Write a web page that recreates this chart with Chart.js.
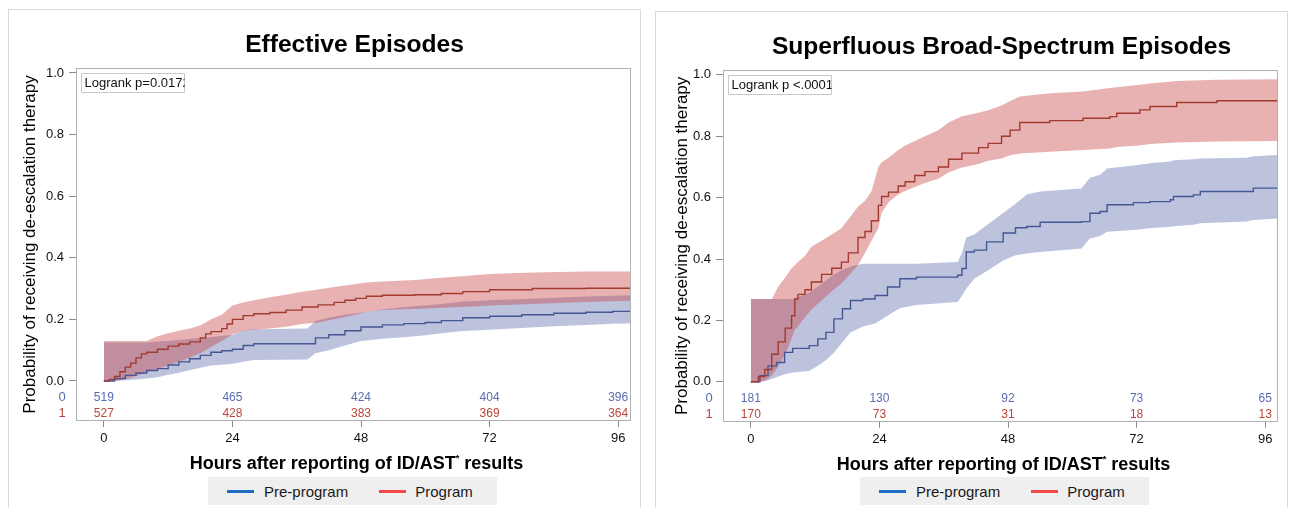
<!DOCTYPE html>
<html>
<head>
<meta charset="utf-8">
<script src="https://cdn.jsdelivr.net/npm/chart.js@4.4.1/dist/chart.umd.min.js"></script>
<style>
  body { margin: 0; width: 1290px; height: 508px; overflow: hidden; position: relative; background: #fff; font-family: "Liberation Sans", Arial, sans-serif; }
  .panel { position: absolute; border: 1px solid #d9d9d9; width: 631px; height: 520px; background: #fff; }
  #panelA { left: 8px; top: 9px; }
  #panelB { left: 655px; top: 11px; }
  .panel canvas { position: absolute; left: 0; top: 0; }
  .legend { position: absolute; top: 477px; width: 289px; height: 28px; background: #efefef; display: flex; align-items: center; font-size: 15px; color: #1a1a1a; }
  .sw { display: inline-block; width: 27px; height: 3px; }
</style>
</head>
<body>
<div class="panel" id="panelA"><canvas id="chartA" width="631" height="467"></canvas></div>
<div class="panel" id="panelB"><canvas id="chartB" width="631" height="465"></canvas></div>

<div class="legend" style="left:208px">
  <span class="sw" style="margin-left:19px;background:#1f6bc5"></span>
  <span style="margin-left:10px">Pre-program</span>
  <span class="sw" style="margin-left:31px;background:#f44848"></span>
  <span style="margin-left:9px">Program</span>
</div>
<div class="legend" style="left:860px">
  <span class="sw" style="margin-left:19px;background:#1f6bc5"></span>
  <span style="margin-left:10px">Pre-program</span>
  <span class="sw" style="margin-left:31px;background:#f44848"></span>
  <span style="margin-left:9px">Program</span>
</div>

<script>
// axis ticks
const xTicks = [0, 24, 48, 72, 96];
const yTicks = [0, 0.2, 0.4, 0.6, 0.8, 1.0];

// Effective episodes - pre-program (0)
const effPreT   = [0, 2, 4, 6, 8, 10, 12, 14, 16, 18, 20, 22, 24, 26, 28, 38, 39.5, 42, 45, 48, 52, 56, 60, 63, 67, 72, 78, 84, 90, 95, 98.4];
const effPreEst = [0, .008, .018, .026, .034, .04, .052, .062, .072, .083, .093, .098, .103, .115, .121, .121, .14, .15, .163, .175, .182, .186, .19, .196, .205, .21, .215, .22, .223, .226, .226];
const effPreLo  = [0, 0, .002, .005, .008, .012, .02, .027, .035, .043, .05, .053, .056, .062, .068, .07, .09, .1, .115, .13, .137, .142, .148, .155, .162, .166, .172, .178, .182, .186, .187];
const effPreHi  = [.125, .125, .125, .125, .125, .128, .13, .133, .136, .14, .143, .146, .15, .163, .168, .17, .195, .205, .215, .222, .232, .24, .245, .25, .258, .262, .266, .27, .274, .277, .278];

// Effective episodes - program (1)
const effProgT   = [0, 1, 2, 3, 4, 5, 6, 7, 8, 10, 12, 14, 16, 18, 19, 20, 22, 23, 24, 26, 28, 31, 34, 37, 40, 43, 45, 47, 49, 52, 58, 63, 67, 72, 80, 90, 98.4];
const effProgEst = [0, .005, .015, .03, .045, .058, .075, .088, .093, .103, .113, .12, .127, .14, .153, .16, .17, .185, .2, .212, .218, .222, .23, .24, .247, .255, .262, .268, .275, .278, .28, .284, .29, .296, .3, .301, .301];
const effProgLo  = [0, 0, 0, .002, .006, .01, .016, .022, .028, .04, .05, .062, .075, .09, .1, .11, .13, .14, .152, .162, .166, .17, .176, .185, .19, .2, .208, .215, .225, .23, .234, .238, .24, .245, .25, .256, .26];
const effProgHi  = [.13, .13, .13, .13, .13, .13, .13, .13, .13, .145, .155, .163, .17, .18, .19, .2, .215, .23, .245, .255, .262, .272, .28, .29, .297, .305, .31, .315, .32, .323, .328, .335, .34, .347, .352, .355, .355];

// Superfluous broad-spectrum episodes - pre-program (0)
const supPreT   = [0, 1.7, 3.2, 4.8, 6.3, 7.8, 10.9, 12.5, 14, 15.5, 17.1, 18.6, 20.9, 23.2, 25.5, 27.8, 30.9, 38.6, 39.4, 40.2, 41.7, 44, 47.1, 49.4, 51.5, 54, 61.7, 63.3, 65.2, 66.5, 71.4, 74.5, 78.3, 78.9, 82.6, 83.9, 92.6, 93.8, 98.4];
const supPreEst = [0, .02, .052, .063, .096, .109, .118, .14, .161, .205, .238, .265, .27, .281, .309, .336, .341, .347, .369, .423, .429, .456, .485, .502, .506, .52, .522, .549, .555, .577, .584, .587, .593, .604, .609, .62, .62, .631, .636];
const supPreLo  = [0, 0, .005, .015, .025, .03, .035, .052, .07, .095, .129, .161, .18, .19, .215, .24, .25, .26, .28, .303, .336, .36, .395, .412, .418, .423, .434, .467, .475, .489, .495, .5, .505, .507, .512, .517, .522, .527, .532];
const supPreHi  = [.27, .27, .27, .27, .27, .27, .29, .31, .33, .35, .365, .375, .385, .385, .385, .385, .385, .39, .42, .47, .48, .51, .55, .58, .61, .62, .63, .665, .675, .695, .705, .712, .718, .722, .725, .728, .73, .735, .739];

// Superfluous broad-spectrum episodes - program (1)
const supProgT   = [0, 1.4, 2.6, 3.9, 5.1, 6.4, 7.6, 8.2, 8.8, 10.1, 11.3, 13.2, 15.1, 16.9, 18.2, 20, 21.3, 22.5, 23.8, 24.4, 25.7, 27.5, 28.8, 30.6, 32.5, 35, 36.9, 39.4, 42.5, 44.3, 46.8, 48.4, 50.2, 55.8, 62, 67, 68.3, 72.6, 74.5, 79.5, 87, 98.4];
const supProgEst = [0, .017, .04, .09, .13, .175, .215, .27, .285, .3, .325, .35, .37, .39, .42, .47, .49, .525, .575, .604, .618, .638, .652, .672, .685, .7, .725, .745, .763, .777, .8, .82, .845, .851, .859, .864, .875, .886, .897, .91, .916, .918];
const supProgLo  = [0, 0, .003, .02, .05, .09, .14, .17, .18, .21, .235, .265, .295, .32, .345, .38, .42, .46, .5, .55, .585, .61, .622, .635, .648, .662, .682, .698, .71, .72, .728, .738, .744, .75, .755, .76, .765, .77, .775, .78, .783, .785];
const supProgHi  = [.27, .27, .27, .27, .31, .34, .37, .38, .39, .41, .44, .46, .48, .5, .53, .57, .59, .62, .7, .715, .73, .755, .77, .785, .8, .82, .845, .865, .877, .885, .9, .915, .93, .94, .946, .957, .96, .968, .972, .98, .984, .986];

// numbers at risk at 0, 24, 48, 72, 96 h
const effRiskPre  = [519, 465, 424, 404, 396];
const effRiskProg = [527, 428, 383, 369, 364];
const supRiskPre  = [181, 130, 92, 73, 65];
const supRiskProg = [170, 73, 31, 18, 13];

const BLUE = '#445694', RED = '#a23a2e';
const BLUE_BAND = 'rgba(66,84,158,0.35)', RED_BAND = 'rgba(198,62,62,0.40)';
const FONT = '"Liberation Sans", Arial, sans-serif';

const pts = (t, v) => t.map((x, i) => ({ x: x, y: v[i] }));

function curve(t, v, color) {
  return { data: pts(t, v), borderColor: color, borderWidth: 1.4, stepped: true, pointRadius: 0, fill: false };
}
function bandEdge(t, v, color, fill) {
  return { data: pts(t, v), borderColor: 'rgba(0,0,0,0)', borderWidth: 0, stepped: false, tension: 0, pointRadius: 0,
           backgroundColor: color, fill: fill };
}

// titles, frame, logrank box and at-risk table
const kmExtras = {
  id: 'kmExtras',
  afterDraw(chart, args, opts) {
    const { ctx, chartArea: a, scales: { x, y } } = chart;
    const cx = (a.left + a.right) / 2;
    ctx.save();

    ctx.strokeStyle = '#b2b2b2';
    ctx.lineWidth = 1;
    ctx.strokeRect(Math.round(a.left) + 0.5, Math.round(a.top) + 0.5, Math.round(a.right - a.left) - 1, Math.round(a.bottom - a.top) - 1);

    ctx.fillStyle = '#000';
    ctx.textAlign = 'center';
    ctx.textBaseline = 'alphabetic';
    ctx.font = 'bold 24.6px ' + FONT;
    ctx.fillText(opts.title, cx + 1, a.top - 16);

    // x axis title with a small raised asterisk
    const p1 = 'Hours after reporting of ID/AST', p2 = ' results';
    ctx.font = 'bold 18px ' + FONT;
    const w1 = ctx.measureText(p1).width, w2 = ctx.measureText(p2).width;
    ctx.font = 'bold 9px ' + FONT;
    const ws = ctx.measureText('*').width;
    let tx = cx + 3 - (w1 + ws + w2) / 2;
    const ty = a.bottom + 48;
    ctx.textAlign = 'left';
    ctx.font = 'bold 18px ' + FONT;
    ctx.fillText(p1, tx, ty);
    ctx.font = 'bold 9px ' + FONT;
    ctx.fillText('*', tx + w1, ty - 8);
    ctx.font = 'bold 18px ' + FONT;
    ctx.fillText(p2, tx + w1 + ws, ty);

    // logrank box (text clipped by the box, as in the original)
    const bx = Math.round(a.left) + 5.5, by = Math.round(a.top) + 5.5;
    ctx.beginPath();
    ctx.rect(bx, by, 103, 19);
    ctx.fillStyle = '#fff';
    ctx.fill();
    ctx.strokeStyle = '#c8c8c8';
    ctx.stroke();
    ctx.save();
    ctx.clip();
    ctx.fillStyle = '#111';
    ctx.font = '13px ' + FONT;
    ctx.textBaseline = 'middle';
    ctx.fillText(opts.logrank, bx + 3, by + 10);
    ctx.restore();

    // numbers at risk
    ctx.textAlign = 'center';
    ctx.textBaseline = 'middle';
    const rows = [[opts.riskPre, -0.055, '#5a6cb0'], [opts.riskProg, -0.107, '#b8463c']];
    rows.forEach(([vals, yv, col], r) => {
      const py = y.getPixelForValue(yv);
      ctx.fillStyle = col;
      ctx.font = '12px "Liberation Sans Narrow", "Liberation Sans", sans-serif';
      vals.forEach((n, i) => ctx.fillText(String(n), x.getPixelForValue(xTicks[i]), py));
      ctx.font = '13px ' + FONT;
      ctx.fillText(String(r), a.left - 14, py);
    });
    ctx.restore();
  }
};

function makeChart(id, title, logrank, pre, prog, riskPre, riskProg, bottomPad, yTitlePad) {
  new Chart(document.getElementById(id), {
    type: 'line',
    data: {
      datasets: [
        curve(prog[0], prog[1], RED),
        curve(pre[0], pre[1], BLUE),
        bandEdge(prog[0], prog[2], RED_BAND, false),
        bandEdge(prog[0], prog[3], RED_BAND, '-1'),
        bandEdge(pre[0], pre[2], BLUE_BAND, false),
        bandEdge(pre[0], pre[3], BLUE_BAND, '-1')
      ]
    },
    options: {
      responsive: false,
      animation: false,
      events: [],
      layout: { padding: { top: 58, right: 9, bottom: bottomPad, left: 0 } },
      plugins: {
        legend: { display: false },
        tooltip: { enabled: false },
        kmExtras: { title: title, logrank: logrank, riskPre: riskPre, riskProg: riskProg }
      },
      scales: {
        x: {
          type: 'linear',
          min: -5.2,
          max: 98.4,
          afterBuildTicks: (s) => { s.ticks = xTicks.map(v => ({ value: v })); },
          afterFit: (s) => { s.height = 30; },
          ticks: { color: '#111', font: { family: FONT, size: 13 }, padding: 4, maxRotation: 0 },
          grid: { drawOnChartArea: false, drawTicks: true, tickLength: 6, color: '#8a8a8a' },
          border: { display: false }
        },
        y: {
          type: 'linear',
          min: -0.13,
          max: 1.016,
          afterBuildTicks: (s) => { s.ticks = yTicks.map(v => ({ value: v })); },
          afterFit: (s) => { s.width = 67; },
          ticks: { color: '#111', font: { family: FONT, size: 13 }, padding: 5, callback: (v) => v.toFixed(1) },
          grid: { drawOnChartArea: false, drawTicks: true, tickLength: 7, color: '#8a8a8a' },
          border: { display: false },
          title: { display: true, text: 'Probability of receiving de-escalation therapy', color: '#000',
                   font: { family: FONT, size: 17 }, padding: { top: yTitlePad, bottom: 0 } }
        }
      }
    },
    plugins: [kmExtras]
  });
}

makeChart('chartA', 'Effective Episodes', 'Logrank p=0.0172',
  [effPreT, effPreEst, effPreLo, effPreHi], [effProgT, effProgEst, effProgLo, effProgHi],
  effRiskPre, effRiskProg, 26, 11);
makeChart('chartB', 'Superfluous Broad-Spectrum Episodes', 'Logrank p <.0001',
  [supPreT, supPreEst, supPreLo, supPreHi], [supProgT, supProgEst, supProgLo, supProgHi],
  supRiskPre, supRiskProg, 25.3, 16);
</script>
</body>
</html>
